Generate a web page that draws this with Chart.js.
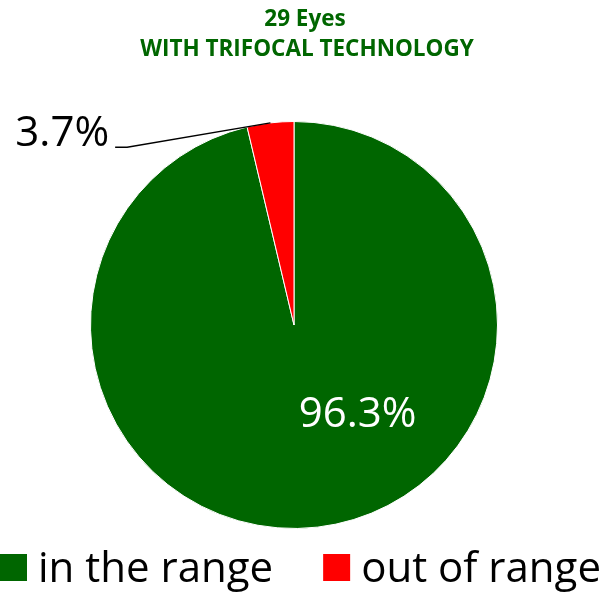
<!DOCTYPE html>
<html>
<head>
<meta charset="utf-8">
<script src="https://cdn.jsdelivr.net/npm/chart.js@4"></script>
<style>
  html, body { margin: 0; padding: 0; background: #fff; }
  #wrap { width: 606px; height: 593px; }
</style>
</head>
<body>
<div id="wrap"><canvas id="chart_pie"></canvas></div>
<script>
// Chart data
const categories = ['in the range', 'out of range'];
const values = [96.3, 3.7];
const valueLabels = ['96.3%', '3.7%'];
const titleLines = ['29 Eyes', 'WITH TRIFOCAL TECHNOLOGY'];

const GREEN = '#006600';
const RED = '#ff0000';
const FONT = '"Open Sans", "Noto Sans", sans-serif';

// Title, drawn a little right of the pie centre like the original
const titlePlugin = {
    id: 'topTitle',
    afterDraw(chart) {
        const ctx = chart.ctx;
        ctx.save();
        ctx.font = 'bold 22.5px ' + FONT;
        ctx.fillStyle = GREEN;
        ctx.textAlign = 'center';
        ctx.textBaseline = 'alphabetic';
        ctx.fillText(titleLines[0], 305, 26);
        ctx.fillText(titleLines[1], 307, 56);
        ctx.restore();
    }
};

// Draws the value labels (one inside, one outside with a leader line)
const valueLabelPlugin = {
    id: 'valueLabels',
    afterDatasetsDraw(chart) {
        const ctx = chart.ctx;
        const arcs = chart.getDatasetMeta(0).data;
        ctx.save();
        ctx.font = '42px ' + FONT;

        // inside label of the big slice
        let a = arcs[0];
        let r = a.outerRadius;
        let ang = (144.6 - 90) * Math.PI / 180;
        ctx.fillStyle = '#fff';
        ctx.textAlign = 'center';
        ctx.textBaseline = 'middle';
        ctx.fillText(valueLabels[0], a.x + Math.cos(ang) * r * 0.54, a.y + Math.sin(ang) * r * 0.54);

        // outside label of the small slice
        a = arcs[1];
        r = a.outerRadius;
        let mid = (a.startAngle + a.endAngle) / 2;
        let ex = a.x + Math.cos(mid) * r;
        let ey = a.y + Math.sin(mid) * r;
        let bx = a.x - r * 0.82;
        let by = a.y - r * 0.873;
        ctx.strokeStyle = '#000';
        ctx.lineWidth = 1.5;
        ctx.beginPath();
        ctx.moveTo(ex, ey);
        ctx.lineTo(bx, by);
        ctx.lineTo(bx - 12, by);
        ctx.stroke();
        ctx.fillStyle = '#000';
        ctx.textAlign = 'right';
        ctx.textBaseline = 'alphabetic';
        ctx.fillText(valueLabels[1], bx - 18, by - 1);
        ctx.restore();
    }
};

// Legend drawn along the bottom edge
const bottomLegendPlugin = {
    id: 'bottomLegend',
    afterDraw(chart) {
        const ctx = chart.ctx;
        const colors = chart.data.datasets[0].backgroundColor;
        const box = 27, gap = 11, itemGap = 50;
        ctx.save();
        ctx.font = '42px ' + FONT;
        let x = 0;
        categories.forEach((c, i) => {
            ctx.fillStyle = colors[i];
            ctx.fillRect(x, 554, box, 27);
            ctx.fillStyle = '#000';
            ctx.textBaseline = 'alphabetic';
            ctx.textAlign = 'left';
            ctx.fillText(c, x + box + gap, 582);
            x += box + gap + ctx.measureText(c).width + itemGap;
        });
        ctx.restore();
    }
};

let chartPie = new Chart(
    document.getElementById('chart_pie'),
    {
        type: 'pie',
        data: {
            labels: categories,
            datasets: [
                {
                    data: values,
                    backgroundColor: [GREEN, RED],
                    borderColor: '#fff',
                    borderWidth: 1,
                }
            ]
        },
        options: {
            responsive: true,
            maintainAspectRatio: false,
            animation: false,
            layout: {
                padding: { top: 121, left: 0, right: 18, bottom: 64 },
            },
            plugins: {
                title: { display: false },
                legend: { display: false },
                tooltip: { enabled: false },
            },
        },
        plugins: [titlePlugin, valueLabelPlugin, bottomLegendPlugin],
    }
);
</script>
</body>
</html>
